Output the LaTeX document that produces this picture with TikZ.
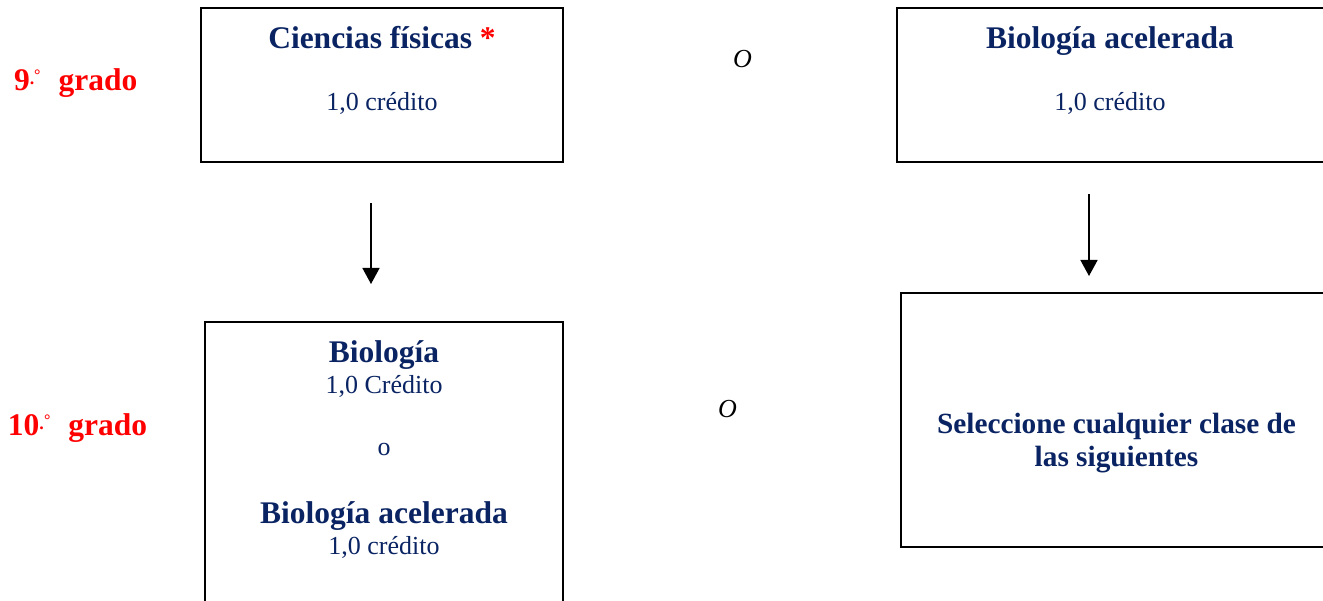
\documentclass[tikz,border=0pt]{standalone}
\usepackage{fontspec}
\setmainfont{Liberation Serif}
\usetikzlibrary{arrows.meta}
\definecolor{navy}{RGB}{10,36,99}
\definecolor{gred}{RGB}{255,0,0}
\newcommand{\bigb}{\fontsize{31.5}{34}\selectfont\bfseries}
\newcommand{\medr}{\fontsize{26}{28}\selectfont}
\newcommand{\selb}{\fontsize{29.3}{32}\selectfont\bfseries}
\begin{document}
\begin{tikzpicture}[x=1pt,y=-1pt,
  box/.style={draw=black,line width=1.8pt,rectangle,inner sep=0pt,outer sep=0pt},
  txt/.style={anchor=base,inner sep=0pt,outer sep=0pt,text=navy},
  grade/.style={anchor=base west,inner sep=0pt,outer sep=0pt,text=gred},
  conn/.style={line width=1.5pt,-{Triangle[length=16pt,width=17pt]}},
  orlbl/.style={anchor=base west,inner sep=0pt,text=black}]
\useasboundingbox (0,0) rectangle (1323,601);
\clip (0,0) rectangle (1323,601);
\fill[white] (0,0) rectangle (1323,601);
% boxes
\node[box,minimum width=362pt,minimum height=154pt] (b1) at (382,85) {};
\node[box,minimum width=433pt,minimum height=154pt] (b2) at (1113.5,85) {};
\node[box,minimum width=358pt,minimum height=318pt] (b3) at (384,481) {};
\node[box,minimum width=434pt,minimum height=254pt] (b4) at (1118,420) {};
% texts box1
\node[txt] (t1a) at (382,49) {\bigb Ciencias físicas \textcolor{gred}{*}};
\node[txt] (t1b) at (382,111) {\medr 1,0 crédito};
% box2
\node[txt] (t2a) at (1110,49) {\bigb Biología acelerada};
\node[txt] (t2b) at (1110,111) {\medr 1,0 crédito};
% box3
\node[txt] (t3a) at (384,363) {\bigb Biología};
\node[txt] (t3b) at (384,394) {\medr 1,0 Crédito};
\node[txt] (t3c) at (384,456) {\medr o};
\node[txt] (t3d) at (384,523) {\bigb Biología acelerada};
\node[txt] (t3e) at (384,554) {\medr 1,0 crédito};
% box4
\node[txt] (t4a) at (1116.5,434) {\selb Seleccione cualquier clase de};
\node[txt] (t4b) at (1116.5,466) {\selb las siguientes};
% O labels
\node[orlbl] (o1) at (733,68) {\medr\itshape O};
\node[orlbl] (o2) at (718,418) {\medr\itshape O};
% grade labels
\node[grade] (g9) at (14,91) {\bigb 9\raisebox{6pt}{\fontsize{18}{18}\selectfont.}\raisebox{10pt}{\fontsize{16}{16}\selectfont°}\hspace{18pt}grado};
\node[grade] (g10) at (8,436) {\bigb 10\raisebox{6pt}{\fontsize{18}{18}\selectfont.}\raisebox{10pt}{\fontsize{16}{16}\selectfont°}\hspace{18pt}grado};
% arrows
\coordinate (a1s) at (371,203);
\coordinate (a1e) at (371,284);
\coordinate (a2s) at (1089,194);
\coordinate (a2e) at (1089,276);
\draw[conn] (a1s) -- (a1e);
\draw[conn] (a2s) -- (a2e);
\end{tikzpicture}
\end{document}
